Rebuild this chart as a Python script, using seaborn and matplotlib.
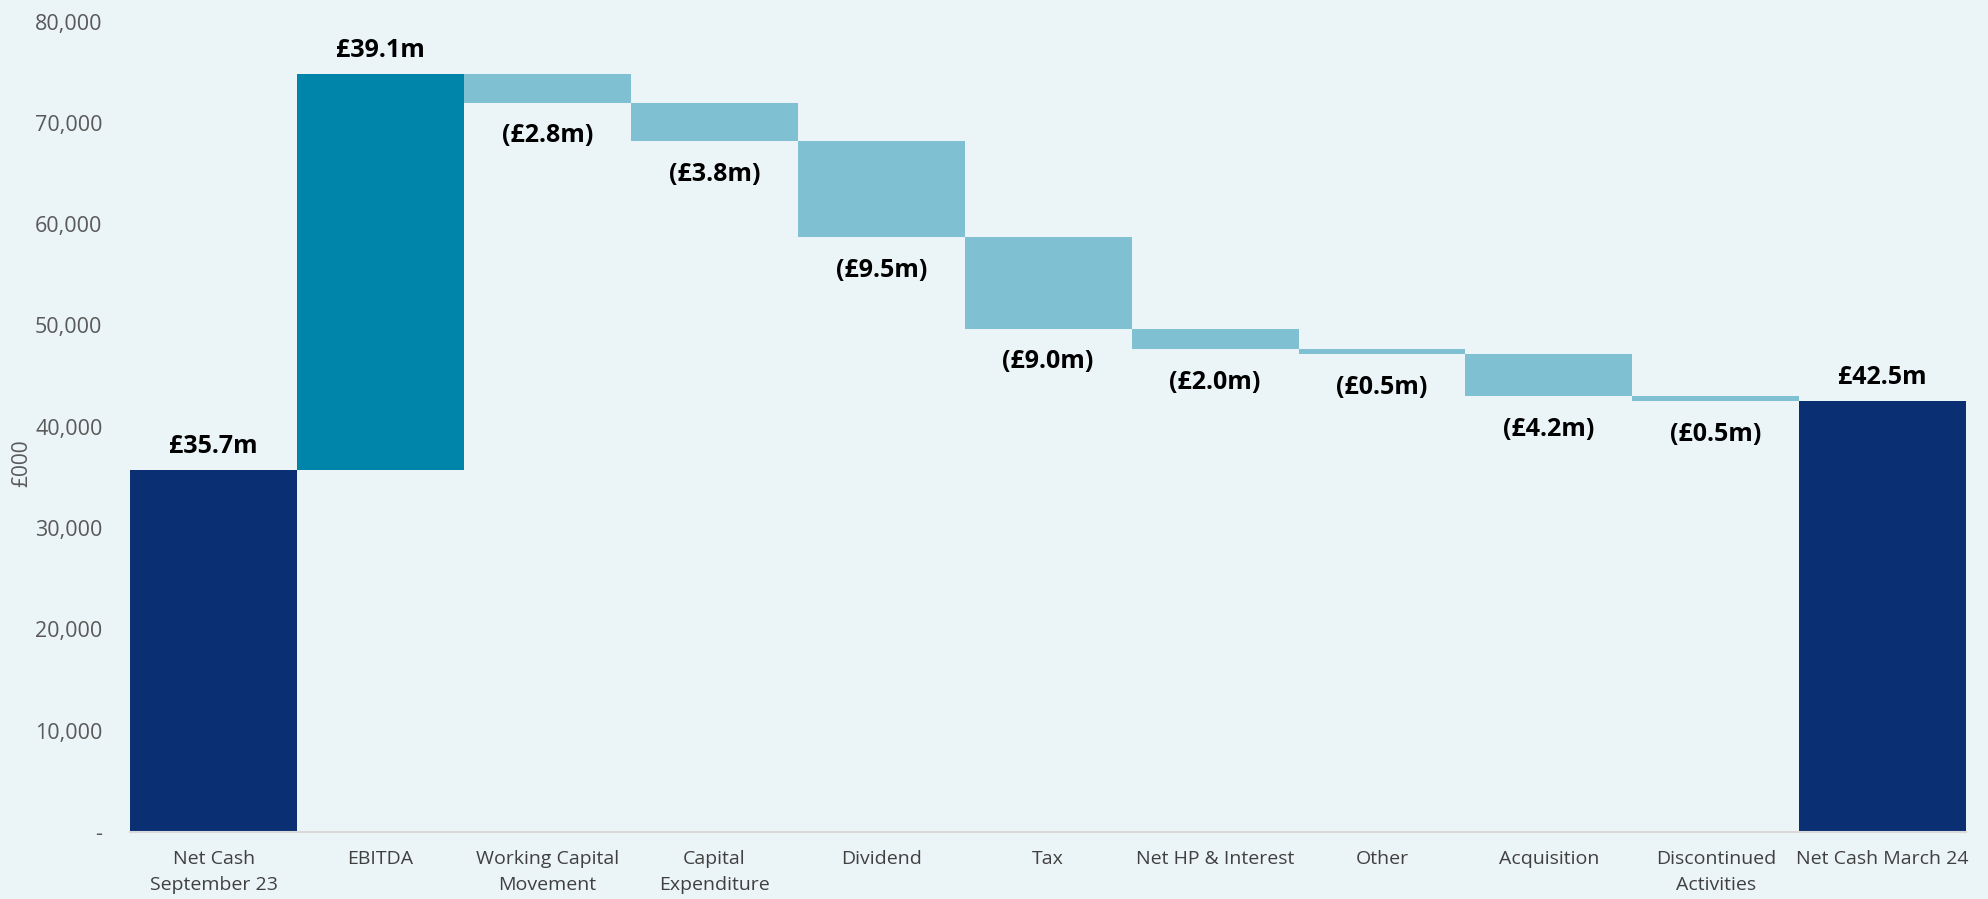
import matplotlib
matplotlib.use("Agg")
import matplotlib.pyplot as plt
import seaborn as sns
import pandas as pd

categories = ["Net Cash\nSeptember 23", "EBITDA", "Working Capital\nMovement", "Capital\nExpenditure",
              "Dividend", "Tax", "Net HP & Interest", "Other", "Acquisition",
              "Discontinued\nActivities", "Net Cash March 24"]
# values in £000
changes = [35700, 39100, -2800, -3800, -9500, -9000, -2000, -500, -4200, -500, 42500]
kinds = ["total", "up", "down", "down", "down", "down", "down", "down", "down", "down", "total"]
labels = ["£35.7m", "£39.1m", "(£2.8m)", "(£3.8m)", "(£9.5m)", "(£9.0m)", "(£2.0m)",
          "(£0.5m)", "(£4.2m)", "(£0.5m)", "£42.5m"]
yticks = [0, 10000, 20000, 30000, 40000, 50000, 60000, 70000, 80000]
ytick_labels = ["-", "10,000", "20,000", "30,000", "40,000", "50,000", "60,000", "70,000", "80,000"]

kind_colors = {"total": "#0A2F72", "up": "#0085AA", "down": "#80C0D3"}
BG = "#EBF4F7"

# compute bottoms / heights
bottoms, heights = [], []
running = 0
for c, k in zip(changes, kinds):
    if k == "total":
        bottoms.append(0)
        heights.append(c)
        running = c
    elif c >= 0:
        bottoms.append(running)
        heights.append(c)
        running += c
    else:
        running += c
        bottoms.append(running)
        heights.append(-c)

df = pd.DataFrame({"cat": categories, "height": heights, "bottom": bottoms, "kind": kinds})

sns.set_theme(style="white")
plt.rcParams["font.family"] = ["Open Sans", "DejaVu Sans"]

fig = plt.figure(figsize=(19.88, 8.99), dpi=100, facecolor=BG)
ax = fig.add_axes([0.0655, 0.0745, 0.9235, 0.9015])
ax.set_facecolor(BG)

palette = {cat: kind_colors[k] for cat, k in zip(categories, kinds)}
sns.barplot(data=df, x="cat", y="height", hue="cat", palette=palette, order=categories,
            hue_order=categories, legend=False, width=1.0, saturation=1, ax=ax, linewidth=0)

for patch, b in zip(ax.patches, bottoms):
    patch.set_y(b)

for i, (lab, k, b, h) in enumerate(zip(labels, kinds, bottoms, heights)):
    if k == "down":
        ax.annotate(lab, (i, b), xytext=(0, -24), textcoords="offset points",
                    ha="center", va="center", fontsize=18, fontweight="bold", color="black")
    else:
        ax.annotate(lab, (i, b + h), xytext=(0, 17), textcoords="offset points",
                    ha="center", va="center", fontsize=18, fontweight="bold", color="black")

ax.set_xlim(-0.5, len(categories) - 0.5)
ax.set_ylim(0, 80000)
ax.set_yticks(yticks)
ax.set_yticklabels(ytick_labels)
ax.tick_params(axis="y", length=0, pad=20, labelsize=15.5, labelcolor="#595959")
ax.tick_params(axis="x", length=0, pad=13, labelsize=14, labelcolor="#404040")
for t in ax.get_xticklabels():
    t.set_linespacing(1.55)
ax.set_xlabel("")
ax.set_ylabel("")
for s in ["top", "right", "left"]:
    ax.spines[s].set_visible(False)
ax.spines["bottom"].set_color("#D9D9D9")
ax.spines["bottom"].set_linewidth(1.5)
ax.grid(False)

fig.text(0.011, 0.485, "£000", rotation=90, ha="center", va="center", fontsize=15, color="#595959")

fig.savefig("out.png", dpi=100, facecolor=BG)
